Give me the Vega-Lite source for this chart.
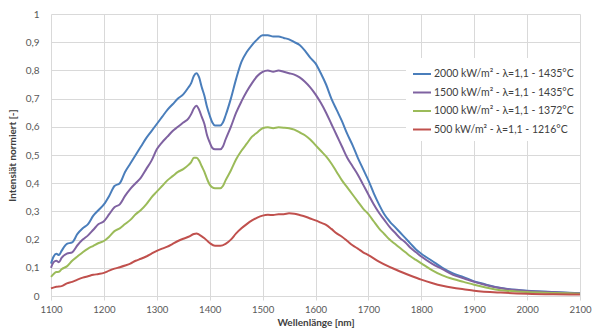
{
  "$schema": "https://vega.github.io/schema/vega-lite/v6.json",
  "width": 529,
  "height": 282,
  "autosize": "none",
  "padding": {"left": 51, "top": 14, "right": 12, "bottom": 38},
  "background": "white",
  "config": {
    "view": {"stroke": null},
    "font": "Lato",
    "axis": {"gridColor": "#d9d9d9", "gridWidth": 1, "labelColor": "#595959", "labelFont": "Lato", "labelFontSize": 10, "titleFont": "Lato", "titleColor": "#404040", "titleFontSize": 10, "titleFontWeight": "bold", "labelOverlap": false, "labelFlush": false}
  },
  "data": {
    "values": [
      {"s":"2000","w":1100,"i":0.115},{"s":"2000","w":1105,"i":0.14},{"s":"2000","w":1110,"i":0.15},{"s":"2000","w":1115,"i":0.145},{"s":"2000","w":1120,"i":0.16},{"s":"2000","w":1130,"i":0.185},{"s":"2000","w":1140,"i":0.19},{"s":"2000","w":1150,"i":0.22},{"s":"2000","w":1160,"i":0.24},{"s":"2000","w":1170,"i":0.255},{"s":"2000","w":1180,"i":0.285},{"s":"2000","w":1190,"i":0.305},{"s":"2000","w":1200,"i":0.325},{"s":"2000","w":1210,"i":0.355},{"s":"2000","w":1220,"i":0.39},{"s":"2000","w":1230,"i":0.4},{"s":"2000","w":1240,"i":0.44},{"s":"2000","w":1250,"i":0.47},{"s":"2000","w":1260,"i":0.5},{"s":"2000","w":1270,"i":0.53},{"s":"2000","w":1280,"i":0.56},{"s":"2000","w":1290,"i":0.585},{"s":"2000","w":1300,"i":0.61},{"s":"2000","w":1310,"i":0.635},{"s":"2000","w":1320,"i":0.66},{"s":"2000","w":1330,"i":0.68},{"s":"2000","w":1340,"i":0.7},{"s":"2000","w":1350,"i":0.715},{"s":"2000","w":1360,"i":0.74},{"s":"2000","w":1365,"i":0.755},{"s":"2000","w":1370,"i":0.78},{"s":"2000","w":1375,"i":0.79},{"s":"2000","w":1380,"i":0.775},{"s":"2000","w":1385,"i":0.74},{"s":"2000","w":1390,"i":0.71},{"s":"2000","w":1395,"i":0.67},{"s":"2000","w":1400,"i":0.64},{"s":"2000","w":1405,"i":0.615},{"s":"2000","w":1410,"i":0.605},{"s":"2000","w":1420,"i":0.605},{"s":"2000","w":1425,"i":0.615},{"s":"2000","w":1430,"i":0.64},{"s":"2000","w":1440,"i":0.7},{"s":"2000","w":1450,"i":0.77},{"s":"2000","w":1460,"i":0.83},{"s":"2000","w":1470,"i":0.865},{"s":"2000","w":1480,"i":0.89},{"s":"2000","w":1490,"i":0.91},{"s":"2000","w":1500,"i":0.925},{"s":"2000","w":1510,"i":0.925},{"s":"2000","w":1520,"i":0.92},{"s":"2000","w":1530,"i":0.92},{"s":"2000","w":1540,"i":0.915},{"s":"2000","w":1550,"i":0.91},{"s":"2000","w":1560,"i":0.9},{"s":"2000","w":1570,"i":0.89},{"s":"2000","w":1580,"i":0.87},{"s":"2000","w":1590,"i":0.845},{"s":"2000","w":1600,"i":0.825},{"s":"2000","w":1610,"i":0.79},{"s":"2000","w":1620,"i":0.75},{"s":"2000","w":1630,"i":0.7},{"s":"2000","w":1640,"i":0.66},{"s":"2000","w":1650,"i":0.62},{"s":"2000","w":1660,"i":0.575},{"s":"2000","w":1670,"i":0.535},{"s":"2000","w":1680,"i":0.49},{"s":"2000","w":1690,"i":0.45},{"s":"2000","w":1700,"i":0.41},{"s":"2000","w":1710,"i":0.365},{"s":"2000","w":1720,"i":0.325},{"s":"2000","w":1730,"i":0.29},{"s":"2000","w":1740,"i":0.265},{"s":"2000","w":1750,"i":0.245},{"s":"2000","w":1760,"i":0.225},{"s":"2000","w":1770,"i":0.205},{"s":"2000","w":1780,"i":0.185},{"s":"2000","w":1790,"i":0.165},{"s":"2000","w":1800,"i":0.15},{"s":"2000","w":1820,"i":0.125},{"s":"2000","w":1840,"i":0.1},{"s":"2000","w":1860,"i":0.08},{"s":"2000","w":1880,"i":0.067},{"s":"2000","w":1900,"i":0.052},{"s":"2000","w":1920,"i":0.042},{"s":"2000","w":1940,"i":0.032},{"s":"2000","w":1960,"i":0.026},{"s":"2000","w":1980,"i":0.022},{"s":"2000","w":2000,"i":0.019},{"s":"2000","w":2050,"i":0.014},{"s":"2000","w":2100,"i":0.01},
      {"s":"1500","w":1100,"i":0.1},{"s":"1500","w":1105,"i":0.12},{"s":"1500","w":1110,"i":0.125},{"s":"1500","w":1115,"i":0.12},{"s":"1500","w":1120,"i":0.135},{"s":"1500","w":1130,"i":0.15},{"s":"1500","w":1140,"i":0.155},{"s":"1500","w":1150,"i":0.18},{"s":"1500","w":1160,"i":0.2},{"s":"1500","w":1170,"i":0.215},{"s":"1500","w":1180,"i":0.235},{"s":"1500","w":1190,"i":0.255},{"s":"1500","w":1200,"i":0.265},{"s":"1500","w":1210,"i":0.29},{"s":"1500","w":1220,"i":0.315},{"s":"1500","w":1230,"i":0.325},{"s":"1500","w":1240,"i":0.355},{"s":"1500","w":1250,"i":0.38},{"s":"1500","w":1260,"i":0.4},{"s":"1500","w":1270,"i":0.42},{"s":"1500","w":1280,"i":0.45},{"s":"1500","w":1290,"i":0.48},{"s":"1500","w":1300,"i":0.52},{"s":"1500","w":1310,"i":0.545},{"s":"1500","w":1320,"i":0.565},{"s":"1500","w":1330,"i":0.585},{"s":"1500","w":1340,"i":0.6},{"s":"1500","w":1350,"i":0.615},{"s":"1500","w":1360,"i":0.63},{"s":"1500","w":1365,"i":0.645},{"s":"1500","w":1370,"i":0.665},{"s":"1500","w":1375,"i":0.675},{"s":"1500","w":1380,"i":0.66},{"s":"1500","w":1385,"i":0.635},{"s":"1500","w":1390,"i":0.61},{"s":"1500","w":1395,"i":0.57},{"s":"1500","w":1400,"i":0.545},{"s":"1500","w":1405,"i":0.525},{"s":"1500","w":1410,"i":0.52},{"s":"1500","w":1420,"i":0.52},{"s":"1500","w":1425,"i":0.53},{"s":"1500","w":1430,"i":0.555},{"s":"1500","w":1440,"i":0.6},{"s":"1500","w":1450,"i":0.65},{"s":"1500","w":1460,"i":0.69},{"s":"1500","w":1470,"i":0.725},{"s":"1500","w":1480,"i":0.755},{"s":"1500","w":1490,"i":0.78},{"s":"1500","w":1500,"i":0.795},{"s":"1500","w":1510,"i":0.8},{"s":"1500","w":1520,"i":0.795},{"s":"1500","w":1530,"i":0.8},{"s":"1500","w":1540,"i":0.795},{"s":"1500","w":1550,"i":0.79},{"s":"1500","w":1560,"i":0.785},{"s":"1500","w":1570,"i":0.775},{"s":"1500","w":1580,"i":0.76},{"s":"1500","w":1590,"i":0.74},{"s":"1500","w":1600,"i":0.715},{"s":"1500","w":1610,"i":0.685},{"s":"1500","w":1620,"i":0.65},{"s":"1500","w":1630,"i":0.61},{"s":"1500","w":1640,"i":0.57},{"s":"1500","w":1650,"i":0.53},{"s":"1500","w":1660,"i":0.49},{"s":"1500","w":1670,"i":0.46},{"s":"1500","w":1680,"i":0.43},{"s":"1500","w":1690,"i":0.395},{"s":"1500","w":1700,"i":0.36},{"s":"1500","w":1710,"i":0.325},{"s":"1500","w":1720,"i":0.295},{"s":"1500","w":1730,"i":0.27},{"s":"1500","w":1740,"i":0.245},{"s":"1500","w":1750,"i":0.225},{"s":"1500","w":1760,"i":0.205},{"s":"1500","w":1770,"i":0.19},{"s":"1500","w":1780,"i":0.17},{"s":"1500","w":1790,"i":0.155},{"s":"1500","w":1800,"i":0.14},{"s":"1500","w":1820,"i":0.115},{"s":"1500","w":1840,"i":0.095},{"s":"1500","w":1860,"i":0.075},{"s":"1500","w":1880,"i":0.063},{"s":"1500","w":1900,"i":0.05},{"s":"1500","w":1920,"i":0.04},{"s":"1500","w":1940,"i":0.031},{"s":"1500","w":1960,"i":0.025},{"s":"1500","w":1980,"i":0.021},{"s":"1500","w":2000,"i":0.018},{"s":"1500","w":2050,"i":0.013},{"s":"1500","w":2100,"i":0.009},
      {"s":"1000","w":1100,"i":0.068},{"s":"1000","w":1105,"i":0.078},{"s":"1000","w":1110,"i":0.085},{"s":"1000","w":1115,"i":0.086},{"s":"1000","w":1120,"i":0.095},{"s":"1000","w":1130,"i":0.105},{"s":"1000","w":1140,"i":0.125},{"s":"1000","w":1150,"i":0.14},{"s":"1000","w":1160,"i":0.155},{"s":"1000","w":1170,"i":0.168},{"s":"1000","w":1180,"i":0.178},{"s":"1000","w":1190,"i":0.188},{"s":"1000","w":1200,"i":0.195},{"s":"1000","w":1210,"i":0.21},{"s":"1000","w":1220,"i":0.23},{"s":"1000","w":1230,"i":0.24},{"s":"1000","w":1240,"i":0.255},{"s":"1000","w":1250,"i":0.27},{"s":"1000","w":1260,"i":0.29},{"s":"1000","w":1270,"i":0.305},{"s":"1000","w":1280,"i":0.325},{"s":"1000","w":1290,"i":0.35},{"s":"1000","w":1300,"i":0.37},{"s":"1000","w":1310,"i":0.39},{"s":"1000","w":1320,"i":0.41},{"s":"1000","w":1330,"i":0.425},{"s":"1000","w":1340,"i":0.44},{"s":"1000","w":1350,"i":0.45},{"s":"1000","w":1360,"i":0.465},{"s":"1000","w":1365,"i":0.475},{"s":"1000","w":1370,"i":0.49},{"s":"1000","w":1375,"i":0.49},{"s":"1000","w":1380,"i":0.48},{"s":"1000","w":1385,"i":0.46},{"s":"1000","w":1390,"i":0.44},{"s":"1000","w":1395,"i":0.415},{"s":"1000","w":1400,"i":0.395},{"s":"1000","w":1405,"i":0.385},{"s":"1000","w":1410,"i":0.382},{"s":"1000","w":1420,"i":0.382},{"s":"1000","w":1425,"i":0.39},{"s":"1000","w":1430,"i":0.41},{"s":"1000","w":1440,"i":0.445},{"s":"1000","w":1450,"i":0.485},{"s":"1000","w":1460,"i":0.515},{"s":"1000","w":1470,"i":0.54},{"s":"1000","w":1480,"i":0.565},{"s":"1000","w":1490,"i":0.58},{"s":"1000","w":1500,"i":0.595},{"s":"1000","w":1510,"i":0.598},{"s":"1000","w":1520,"i":0.595},{"s":"1000","w":1530,"i":0.598},{"s":"1000","w":1540,"i":0.597},{"s":"1000","w":1550,"i":0.595},{"s":"1000","w":1560,"i":0.59},{"s":"1000","w":1570,"i":0.58},{"s":"1000","w":1580,"i":0.57},{"s":"1000","w":1590,"i":0.555},{"s":"1000","w":1600,"i":0.535},{"s":"1000","w":1610,"i":0.515},{"s":"1000","w":1620,"i":0.495},{"s":"1000","w":1630,"i":0.47},{"s":"1000","w":1640,"i":0.44},{"s":"1000","w":1650,"i":0.41},{"s":"1000","w":1660,"i":0.385},{"s":"1000","w":1670,"i":0.36},{"s":"1000","w":1680,"i":0.335},{"s":"1000","w":1690,"i":0.31},{"s":"1000","w":1700,"i":0.29},{"s":"1000","w":1710,"i":0.265},{"s":"1000","w":1720,"i":0.24},{"s":"1000","w":1730,"i":0.22},{"s":"1000","w":1740,"i":0.2},{"s":"1000","w":1750,"i":0.185},{"s":"1000","w":1760,"i":0.17},{"s":"1000","w":1770,"i":0.155},{"s":"1000","w":1780,"i":0.14},{"s":"1000","w":1790,"i":0.128},{"s":"1000","w":1800,"i":0.116},{"s":"1000","w":1820,"i":0.092},{"s":"1000","w":1840,"i":0.073},{"s":"1000","w":1860,"i":0.06},{"s":"1000","w":1880,"i":0.05},{"s":"1000","w":1900,"i":0.04},{"s":"1000","w":1920,"i":0.031},{"s":"1000","w":1940,"i":0.023},{"s":"1000","w":1960,"i":0.019},{"s":"1000","w":1980,"i":0.016},{"s":"1000","w":2000,"i":0.014},{"s":"1000","w":2050,"i":0.011},{"s":"1000","w":2100,"i":0.008},
      {"s":"500","w":1100,"i":0.027},{"s":"500","w":1110,"i":0.033},{"s":"500","w":1120,"i":0.035},{"s":"500","w":1130,"i":0.045},{"s":"500","w":1140,"i":0.05},{"s":"500","w":1150,"i":0.058},{"s":"500","w":1160,"i":0.065},{"s":"500","w":1170,"i":0.07},{"s":"500","w":1180,"i":0.075},{"s":"500","w":1190,"i":0.078},{"s":"500","w":1200,"i":0.082},{"s":"500","w":1210,"i":0.09},{"s":"500","w":1220,"i":0.097},{"s":"500","w":1230,"i":0.102},{"s":"500","w":1240,"i":0.108},{"s":"500","w":1250,"i":0.115},{"s":"500","w":1260,"i":0.125},{"s":"500","w":1270,"i":0.132},{"s":"500","w":1280,"i":0.14},{"s":"500","w":1290,"i":0.15},{"s":"500","w":1300,"i":0.16},{"s":"500","w":1310,"i":0.168},{"s":"500","w":1320,"i":0.175},{"s":"500","w":1330,"i":0.185},{"s":"500","w":1340,"i":0.195},{"s":"500","w":1350,"i":0.203},{"s":"500","w":1360,"i":0.21},{"s":"500","w":1370,"i":0.22},{"s":"500","w":1375,"i":0.222},{"s":"500","w":1380,"i":0.218},{"s":"500","w":1390,"i":0.205},{"s":"500","w":1400,"i":0.188},{"s":"500","w":1410,"i":0.178},{"s":"500","w":1420,"i":0.178},{"s":"500","w":1430,"i":0.185},{"s":"500","w":1440,"i":0.2},{"s":"500","w":1450,"i":0.222},{"s":"500","w":1460,"i":0.24},{"s":"500","w":1470,"i":0.255},{"s":"500","w":1480,"i":0.268},{"s":"500","w":1490,"i":0.278},{"s":"500","w":1500,"i":0.285},{"s":"500","w":1510,"i":0.288},{"s":"500","w":1520,"i":0.287},{"s":"500","w":1530,"i":0.29},{"s":"500","w":1540,"i":0.29},{"s":"500","w":1550,"i":0.293},{"s":"500","w":1560,"i":0.292},{"s":"500","w":1570,"i":0.287},{"s":"500","w":1580,"i":0.282},{"s":"500","w":1590,"i":0.275},{"s":"500","w":1600,"i":0.268},{"s":"500","w":1610,"i":0.26},{"s":"500","w":1620,"i":0.252},{"s":"500","w":1630,"i":0.238},{"s":"500","w":1640,"i":0.222},{"s":"500","w":1650,"i":0.21},{"s":"500","w":1660,"i":0.195},{"s":"500","w":1670,"i":0.18},{"s":"500","w":1680,"i":0.168},{"s":"500","w":1690,"i":0.155},{"s":"500","w":1700,"i":0.145},{"s":"500","w":1720,"i":0.122},{"s":"500","w":1740,"i":0.103},{"s":"500","w":1760,"i":0.087},{"s":"500","w":1780,"i":0.072},{"s":"500","w":1800,"i":0.058},{"s":"500","w":1820,"i":0.046},{"s":"500","w":1840,"i":0.036},{"s":"500","w":1860,"i":0.029},{"s":"500","w":1880,"i":0.024},{"s":"500","w":1900,"i":0.019},{"s":"500","w":1950,"i":0.012},{"s":"500","w":2000,"i":0.008},{"s":"500","w":2050,"i":0.006},{"s":"500","w":2100,"i":0.005}
    ]
  },
  "mark": {"type": "line", "strokeWidth": 2, "interpolate": "monotone"},
  "encoding": {
    "x": {"field": "w", "type": "quantitative", "scale": {"domain": [1100, 2100], "nice": false, "zero": false},
      "axis": {"title": "Wellenlänge [nm]", "values": [1100,1200,1300,1400,1500,1600,1700,1800,1900,2000,2100], "format": "d", "labelFontSize": 9.6, "domainColor": "#d9d9d9", "tickColor": "#d9d9d9", "tickSize": 4, "labelPadding": 4, "titlePadding": 4}},
    "y": {"field": "i", "type": "quantitative", "scale": {"domain": [0, 1], "nice": false},
      "axis": {"title": "Intensiät normiert [-]", "values": [0,0.1,0.2,0.3,0.4,0.5,0.6,0.7,0.8,0.9,1], "labelExpr": "replace(format(datum.value, '.1~f'), '.', ',')", "domain": false, "ticks": false, "labelPadding": 12, "titlePadding": 8}},
    "color": {"field": "s", "type": "nominal",
      "scale": {"domain": ["2000","1500","1000","500"], "range": ["#4A7EBB","#7F62A1","#9BBB59","#C0504D"]},
      "legend": {"title": null, "orient": "none", "legendX": 355, "legendY": 44, "fillColor": "white", "padding": 6, "symbolType": "stroke", "symbolSize": 324, "symbolStrokeWidth": 2, "labelFontSize": 10.5, "labelColor": "#404040", "labelFont": "Lato", "rowPadding": 2.5, "labelOffset": 2,
        "labelExpr": "datum.value == '2000' ? '2000 kW/m² - λ=1,1 - 1435°C' : datum.value == '1500' ? '1500 kW/m² - λ=1,1 - 1435°C' : datum.value == '1000' ? '1000 kW/m² - λ=1,1 - 1372°C' : '500 kW/m² - λ=1,1 - 1216°C'"}}
  }
}
